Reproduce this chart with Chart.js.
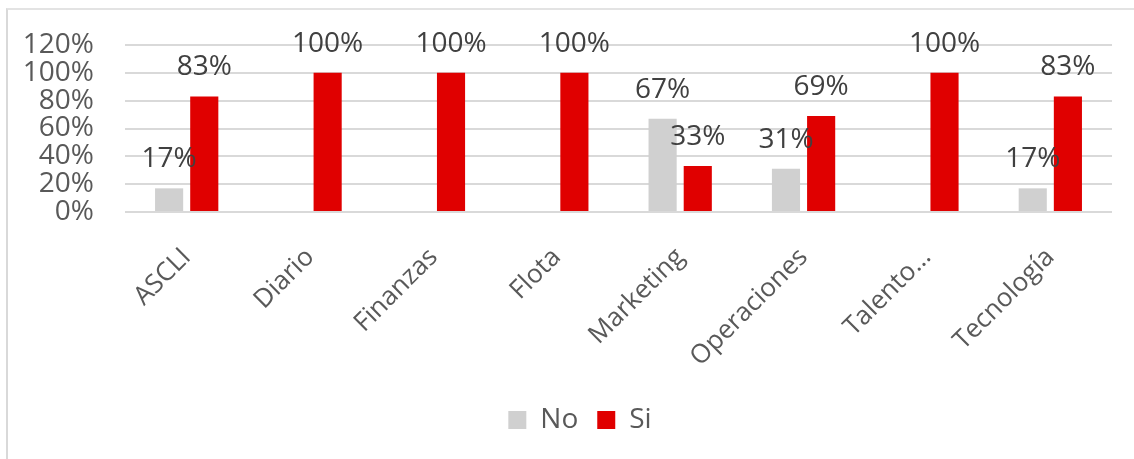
<!DOCTYPE html>
<html lang="es">
<head>
<meta charset="utf-8">
<title>No / Si por área</title>
<script src="https://cdn.jsdelivr.net/npm/chart.js@4/dist/chart.umd.min.js"></script>
<style>
    html, body { margin: 0; padding: 0; background: #fff; }
    #wrap { position: relative; width: 1134px; height: 459px; overflow: hidden; }
    #frame {
        position: absolute; left: 6px; top: 8px; right: -4px; bottom: -4px;
        border-left: 2px solid #d9d9d9; border-top: 2px solid #e3e3e3;
    }
    #chart { position: absolute; left: 0; top: 0; }
</style>
</head>
<body>
<div id="wrap">
    <div id="frame"></div>
    <canvas id="chart" width="1134" height="459"></canvas>
</div>
<script>
const areas = ['ASCLI', 'Diario', 'Finanzas', 'Flota', 'Marketing', 'Operaciones', 'Talento…', 'Tecnología'];
const noValues = [17, null, null, null, 67, 31, null, 17];
const siValues = [83, 100, 100, 100, 33, 69, 100, 83];
const yTicks = [0, 20, 40, 60, 80, 100, 120];

const FONT = "'Open Sans', 'DejaVu Sans', sans-serif";

// value labels drawn above each bar
const barLabels = {
    id: 'barLabels',
    afterDatasetsDraw(chart) {
        const ctx = chart.ctx;
        ctx.save();
        ctx.font = '28px ' + FONT;
        ctx.fillStyle = '#404040';
        ctx.textAlign = 'center';
        ctx.textBaseline = 'middle';
        chart.data.datasets.forEach((ds, i) => {
            const meta = chart.getDatasetMeta(i);
            meta.data.forEach((bar, j) => {
                const v = ds.data[j];
                if (v === null || v === undefined) return;
                ctx.fillText(v + '%', bar.x, bar.y - 29);
            });
        });
        ctx.restore();
    }
};

// nudge the legend a bit right of the canvas centre
const legendShift = {
    id: 'legendShift',
    afterLayout(chart) {
        const l = chart.legend;
        if (!l) return;
        l.left += 24;
        l.right += 24;
    }
};

new Chart(document.getElementById('chart').getContext('2d'), {
    type: 'bar',
    data: {
        labels: areas,
        datasets: [{
            label: 'No',
            data: noValues,
            backgroundColor: '#d0d0d0',
            categoryPercentage: 0.57,
            barPercentage: 0.8
        }, {
            label: 'Si',
            data: siValues,
            backgroundColor: '#e00000',
            categoryPercentage: 0.57,
            barPercentage: 0.8
        }]
    },
    options: {
        responsive: false,
        animation: false,
        layout: { padding: { top: 24, right: 22, left: 0, bottom: 15 } },
        plugins: {
            tooltip: { enabled: false },
            legend: {
                position: 'bottom',
                labels: {
                    boxWidth: 18,
                    boxHeight: 18,
                    padding: 19,
                    color: '#595959',
                    font: { family: FONT, size: 28 }
                }
            }
        },
        scales: {
            x: {
                grid: { display: false },
                border: { display: false },
                afterFit(scale) { scale.height = 175; },
                ticks: {
                    color: '#595959',
                    font: { family: FONT, size: 26 },
                    minRotation: 45,
                    maxRotation: 45,
                    autoSkip: false,
                    padding: 22
                }
            },
            y: {
                min: yTicks[0],
                max: yTicks[yTicks.length - 1],
                border: { display: false },
                grid: { color: '#d9d9d9', lineWidth: 2, drawTicks: false },
                afterBuildTicks(scale) {
                    scale.ticks = yTicks.map(v => ({ value: v }));
                },
                afterFit(scale) { scale.width = 125; },
                ticks: {
                    color: '#595959',
                    font: { family: FONT, size: 28, lineHeight: 1 },
                    autoSkip: false,
                    padding: 31,
                    callback: v => v + '%'
                }
            }
        }
    },
    plugins: [barLabels, legendShift]
});
</script>
</body>
</html>
